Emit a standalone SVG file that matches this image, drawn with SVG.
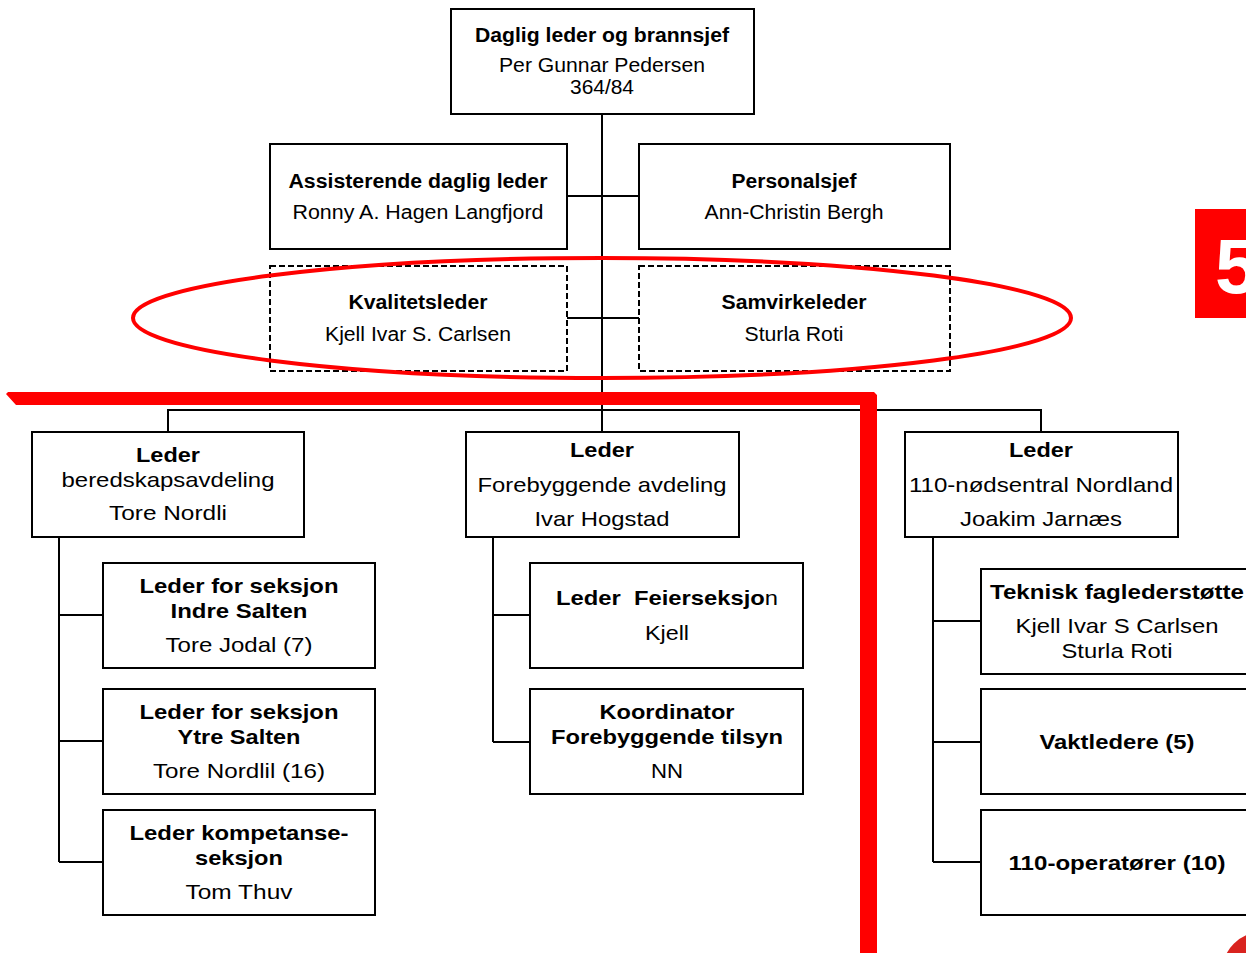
<svg xmlns="http://www.w3.org/2000/svg" width="1246" height="953" viewBox="0 0 1246 953">
<style>
.box{fill:#fff;stroke:#000;stroke-width:2}
.dash{fill:#fff;stroke:#000;stroke-width:2;stroke-dasharray:6 3}
.ln{fill:none;stroke:#000;stroke-width:2}
text{font-family:"Liberation Sans",Arial,sans-serif;fill:#000;text-anchor:middle}
.b{font-weight:bold}
.s{font-size:19.5px}
.m{font-size:21px}
</style>
<rect width="1246" height="953" fill="#fff"/>
<g id="connectors">
<path class="ln" d="M602 114V410M567 196H639M567 318H639M168 432V410H1041V432M602 410V432"/>
<path class="ln" d="M59 537V862M59 615H103M59 741H103M59 862H103"/>
<path class="ln" d="M493 537V742M493 615H530M493 742H530"/>
<path class="ln" d="M933 537V862M933 621H981M933 742H981M933 862H981"/>
</g>
<g id="n-top">
<rect class="box" x="451" y="9" width="303" height="105"/>
<text class="b s" x="602" y="42" textLength="254" lengthAdjust="spacingAndGlyphs">Daglig leder og brannsjef</text>
<text class="s" x="602" y="72" textLength="206" lengthAdjust="spacingAndGlyphs">Per Gunnar Pedersen</text>
<text class="s" x="602" y="94" textLength="64" lengthAdjust="spacingAndGlyphs">364/84</text>
</g>
<g id="n-assist">
<rect class="box" x="270" y="144" width="297" height="105"/>
<text class="b s" x="418" y="188" textLength="259" lengthAdjust="spacingAndGlyphs">Assisterende daglig leder</text>
<text class="s" x="418" y="219" textLength="251" lengthAdjust="spacingAndGlyphs">Ronny A. Hagen Langfjord</text>
</g>
<g id="n-personal">
<rect class="box" x="639" y="144" width="311" height="105"/>
<text class="b s" x="794" y="188" textLength="125" lengthAdjust="spacingAndGlyphs">Personalsjef</text>
<text class="s" x="794" y="219" textLength="179" lengthAdjust="spacingAndGlyphs">Ann-Christin Bergh</text>
</g>
<g id="n-kvalitet">
<rect class="dash" x="270" y="266" width="297" height="105"/>
<text class="b s" x="418" y="309" textLength="139" lengthAdjust="spacingAndGlyphs">Kvalitetsleder</text>
<text class="s" x="418" y="341" textLength="186" lengthAdjust="spacingAndGlyphs">Kjell Ivar S. Carlsen</text>
</g>
<g id="n-samvirke">
<rect class="dash" x="639" y="266" width="311" height="105"/>
<text class="b s" x="794" y="309" textLength="145" lengthAdjust="spacingAndGlyphs">Samvirkeleder</text>
<text class="s" x="794" y="341" textLength="99" lengthAdjust="spacingAndGlyphs">Sturla Roti</text>
</g>
<g id="n-beredskap">
<rect class="box" x="32" y="432" width="272" height="105"/>
<text class="b m" x="168" y="462" textLength="64" lengthAdjust="spacingAndGlyphs">Leder</text>
<text class="m" x="168" y="487" textLength="213" lengthAdjust="spacingAndGlyphs">beredskapsavdeling</text>
<text class="m" x="168" y="520" textLength="118" lengthAdjust="spacingAndGlyphs">Tore Nordli</text>
</g>
<g id="n-forebyggende">
<rect class="box" x="466" y="432" width="273" height="105"/>
<text class="b m" x="602" y="457" textLength="64" lengthAdjust="spacingAndGlyphs">Leder</text>
<text class="m" x="602" y="492" textLength="249" lengthAdjust="spacingAndGlyphs">Forebyggende avdeling</text>
<text class="m" x="602" y="526" textLength="135" lengthAdjust="spacingAndGlyphs">Ivar Hogstad</text>
</g>
<g id="n-110">
<rect class="box" x="905" y="432" width="273" height="105"/>
<text class="b m" x="1041" y="457" textLength="64" lengthAdjust="spacingAndGlyphs">Leder</text>
<text class="m" x="1041" y="492" textLength="264" lengthAdjust="spacingAndGlyphs">110-nødsentral Nordland</text>
<text class="m" x="1041" y="526" textLength="162" lengthAdjust="spacingAndGlyphs">Joakim Jarnæs</text>
</g>
<g id="n-indre">
<rect class="box" x="103" y="563" width="272" height="105"/>
<text class="b m" x="239" y="593" textLength="199" lengthAdjust="spacingAndGlyphs">Leder for seksjon</text>
<text class="b m" x="239" y="618" textLength="137" lengthAdjust="spacingAndGlyphs">Indre Salten</text>
<text class="m" x="239" y="652" textLength="147" lengthAdjust="spacingAndGlyphs">Tore Jodal (7)</text>
</g>
<g id="n-ytre">
<rect class="box" x="103" y="689" width="272" height="105"/>
<text class="b m" x="239" y="719" textLength="199" lengthAdjust="spacingAndGlyphs">Leder for seksjon</text>
<text class="b m" x="239" y="744" textLength="123" lengthAdjust="spacingAndGlyphs">Ytre Salten</text>
<text class="m" x="239" y="778" textLength="172" lengthAdjust="spacingAndGlyphs">Tore Nordlil (16)</text>
</g>
<g id="n-kompetanse">
<rect class="box" x="103" y="810" width="272" height="105"/>
<text class="b m" x="239" y="840" textLength="219" lengthAdjust="spacingAndGlyphs">Leder kompetanse-</text>
<text class="b m" x="239" y="865" textLength="88" lengthAdjust="spacingAndGlyphs">seksjon</text>
<text class="m" x="239" y="899" textLength="107" lengthAdjust="spacingAndGlyphs">Tom Thuv</text>
</g>
<g id="n-feier">
<rect class="box" x="530" y="563" width="273" height="105"/>
<text class="m" x="667" y="605" style="white-space:pre" xml:space="preserve" textLength="222" lengthAdjust="spacingAndGlyphs"><tspan class="b">Leder  Feierseksjo</tspan>n</text>
<text class="m" x="667" y="640" textLength="44" lengthAdjust="spacingAndGlyphs">Kjell</text>
</g>
<g id="n-koordinator">
<rect class="box" x="530" y="689" width="273" height="105"/>
<text class="b m" x="667" y="719" textLength="135" lengthAdjust="spacingAndGlyphs">Koordinator</text>
<text class="b m" x="667" y="744" textLength="232" lengthAdjust="spacingAndGlyphs">Forebyggende tilsyn</text>
<text class="m" x="667" y="778" textLength="32" lengthAdjust="spacingAndGlyphs">NN</text>
</g>
<g id="n-teknisk">
<rect class="box" x="981" y="569" width="275" height="105"/>
<text class="b m" x="1117" y="599" textLength="254" lengthAdjust="spacingAndGlyphs">Teknisk faglederstøtte</text>
<text class="m" x="1117" y="633" textLength="203" lengthAdjust="spacingAndGlyphs">Kjell Ivar S Carlsen</text>
<text class="m" x="1117" y="658" textLength="111" lengthAdjust="spacingAndGlyphs">Sturla Roti</text>
</g>
<g id="n-vakt">
<rect class="box" x="981" y="689" width="275" height="105"/>
<text class="b m" x="1117" y="749" textLength="155" lengthAdjust="spacingAndGlyphs">Vaktledere (5)</text>
</g>
<g id="n-operator">
<rect class="box" x="981" y="810" width="275" height="105"/>
<text class="b m" x="1117" y="870" textLength="217" lengthAdjust="spacingAndGlyphs">110-operatører (10)</text>
</g>
<g id="annotations">
<ellipse cx="602" cy="318" rx="469" ry="60" fill="none" stroke="#f00" stroke-width="4"/>
<polygon points="6,394 8,392 874,392 877,395 877,953 860,953 860,405 16,405" fill="#f00"/>
<rect x="1195" y="209" width="60" height="109" fill="#f00"/>
<text x="1215" y="293" style="font-size:78px;font-weight:bold;fill:#fff;text-anchor:start">5</text>
<circle cx="1262" cy="972" r="40" fill="#d9231f"/>
</g>
</svg>
